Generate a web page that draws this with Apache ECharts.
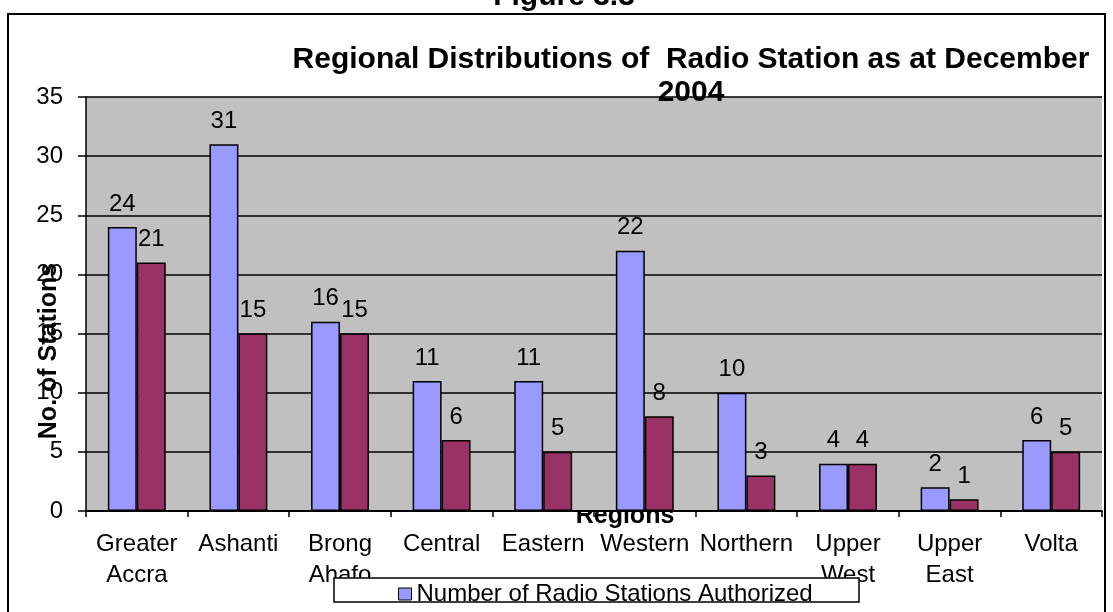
<!DOCTYPE html>
<html>
<head>
<meta charset="utf-8">
<script src="https://cdn.jsdelivr.net/npm/echarts@6/dist/echarts.min.js"></script>
<style>
  html, body { margin: 0; padding: 0; background: #fff; }
  #chart { width: 1113px; height: 612px; }
</style>
</head>
<body>
<div id="chart"></div>
<script>
// Regions of Ghana and radio station counts, December 2004
const regions = ['Greater\nAccra', 'Ashanti', 'Brong\nAhafo', 'Central', 'Eastern', 'Western', 'Northern', 'Upper\nWest', 'Upper\nEast', 'Volta'];
const authorized = [24, 31, 16, 11, 11, 22, 10, 4, 2, 6];
const operating = [21, 15, 15, 6, 5, 8, 3, 4, 1, 5];
const seriesNames = ['Number of Radio Stations Authorized', 'Number of Radio Stations in Operation'];
const yTicks = { min: 0, max: 35, interval: 5 };

const FONT = 'Liberation Sans, Arial, sans-serif';
const chart = echarts.init(document.getElementById('chart'), null, { renderer: 'canvas' });

const labelStyle = { show: true, position: 'top', distance: 11, color: '#000', fontSize: 24, fontFamily: FONT };

chart.setOption({
  animation: false,
  backgroundColor: '#fff',
  textStyle: { fontFamily: FONT },
  grid: { left: 86, right: 11, top: 97, bottom: 101, show: true, backgroundColor: '#C0C0C0', borderWidth: 0 },
  legend: {
    data: [seriesNames[0]],
    left: 393, top: 577, z: 100,
    icon: 'rect', itemWidth: 13, itemHeight: 12,
    itemStyle: { borderColor: '#000', borderWidth: 1 },
    textStyle: { fontSize: 24, color: '#000', fontFamily: FONT }
  },
  xAxis: {
    type: 'category',
    data: regions,
    z: 5,
    axisLine: { lineStyle: { color: '#000', width: 2 } },
    axisTick: { show: true, alignWithLabel: false, length: 6, lineStyle: { color: '#000', width: 1.5 } },
    axisLabel: { color: '#000', fontSize: 24, lineHeight: 31, margin: 18, interval: 0, fontFamily: FONT },
    splitLine: { show: false }
  },
  yAxis: {
    type: 'value',
    min: yTicks.min, max: yTicks.max, interval: yTicks.interval,
    axisLine: { show: true, lineStyle: { color: '#000', width: 1.5 } },
    axisTick: { show: true, length: 8, lineStyle: { color: '#000', width: 1.5 } },
    axisLabel: { color: '#000', fontSize: 24, margin: 23, fontFamily: FONT },
    splitLine: { show: true, lineStyle: { color: '#000', width: 1.5 } }
  },
  series: [
    {
      name: seriesNames[0], type: 'bar', data: authorized,
      barGap: '0%', barCategoryGap: '43%',
      itemStyle: { color: '#9999FF', borderColor: '#000', borderWidth: 1.5 },
      label: labelStyle
    },
    {
      name: seriesNames[1], type: 'bar', data: operating,
      itemStyle: { color: '#993366', borderColor: '#000', borderWidth: 1.5 },
      label: labelStyle
    }
  ],
  graphic: [
    { type: 'rect', z: 1, shape: { x: 8, y: 14, width: 1097, height: 640 },
      style: { fill: 'none', stroke: '#000', lineWidth: 2 } },
    { type: 'text', z: 60, x: 564, y: 12,
      style: { text: 'Figure 3.3', fill: '#000', font: 'bold 30px ' + FONT, align: 'center', verticalAlign: 'bottom' } },
    { type: 'text', z: 60, x: 691, y: 60,
      style: { text: 'Regional Distributions of  Radio Station as at December', fill: '#000', font: 'bold 30px ' + FONT, align: 'center', verticalAlign: 'middle' } },
    { type: 'text', z: 60, x: 691, y: 93,
      style: { text: '2004', fill: '#000', font: 'bold 30px ' + FONT, align: 'center', verticalAlign: 'middle' } },
    { type: 'text', z: 60, x: 49, y: 351, rotation: Math.PI / 2,
      style: { text: 'No. of Stations', fill: '#000', font: 'bold 25px ' + FONT, align: 'center', verticalAlign: 'middle' } },
    { type: 'text', z: -1, x: 625, y: 529,
      style: { text: 'Regions', fill: '#000', font: 'bold 25px ' + FONT, align: 'center', verticalAlign: 'bottom' } },
    { type: 'rect', z: 90, shape: { x: 334, y: 578, width: 525, height: 24 },
      style: { fill: '#fff', stroke: '#000', lineWidth: 1.5 } }
  ]
});
</script>
</body>
</html>
